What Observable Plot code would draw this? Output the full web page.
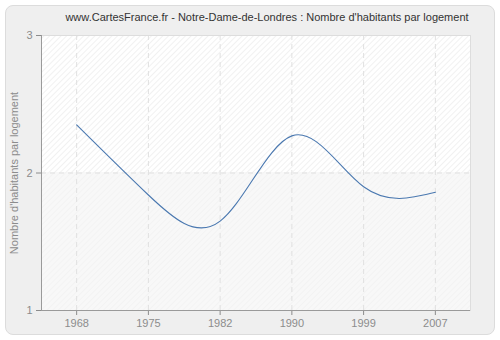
<!DOCTYPE html>
<html>
<head>
<meta charset="utf-8">
<script src="https://cdn.jsdelivr.net/npm/d3@7"></script>
<script src="https://cdn.jsdelivr.net/npm/@observablehq/plot@0.6"></script>
<style>
  html, body { margin: 0; padding: 0; background: #ffffff; }
  #wrap { position: relative; width: 500px; height: 340px; overflow: hidden; }
  #box { position: absolute; left: 5px; top: 5px; width: 488px; height: 328px;
         background: #efefef; border: 1px solid #dcdcdc; border-radius: 8px; }
  #title { position: absolute; left: 0; width: 534px; top: 11px; text-align: center;
           font-family: "Liberation Sans", Arial, sans-serif; font-size: 11px; color: #333; white-space: nowrap; }
  #chart { position: absolute; left: 0; top: 0; }
  #chart svg { background: transparent !important; }
</style>
</head>
<body>
<div id="wrap">
  <div id="box"></div>
  <div id="chart"></div>
  <div id="title">www.CartesFrance.fr - Notre-Dame-de-Londres : Nombre d'habitants par logement</div>
</div>
<script>
const years = ["1968", "1975", "1982", "1990", "1999", "2007"];
const values = [2.35, 1.84, 1.65, 2.27, 1.90, 1.86];
const yTicks = [1, 2, 3];
const yLabel = "Nombre d'habitants par logement";

const data = years.map((y, i) => ({year: y, value: values[i]}));

const W = 500, H = 340, ML = 41, MR = 30, MT = 35, MB = 30;

const plot = Plot.plot({
  width: W, height: H,
  marginLeft: ML, marginRight: MR, marginTop: MT, marginBottom: MB,
  style: {background: "transparent", fontFamily: "Liberation Sans, Arial, sans-serif", fontSize: "11px", color: "#8c8c8c"},
  x: {type: "point", domain: years, padding: 0.49, round: false, label: null, tickSize: 5, tickPadding: 4},
  y: {domain: [1, 3], ticks: yTicks, tickFormat: d3.format("d"), label: null, tickSize: 5, tickPadding: 4},
  marks: [
    Plot.rect([{a: 2, b: 3}], {y1: "a", y2: "b", fill: "url(#hatchTop)"}),
    Plot.rect([{a: 1, b: 2}], {y1: "a", y2: "b", fill: "url(#hatchBot)"}),
    Plot.ruleX(years, {stroke: "#e0e0e0", strokeDasharray: "5,4", strokeWidth: 1}),
    Plot.ruleY([2], {stroke: "#e0e0e0", strokeDasharray: "5,4", strokeWidth: 1}),
    Plot.frame({stroke: "#dddddd"}),
    Plot.ruleY([1], {stroke: "#9a9a9a", strokeWidth: 1}),
    Plot.line(data, {x: "year", y: "value", stroke: "#4a78b0", strokeWidth: 1.1, curve: "natural"}),
    Plot.text([yLabel], {frameAnchor: "left", textAnchor: "middle", dx: -27, rotate: -90, fill: "#8c8c8c", fontSize: 11})
  ]
});

const svg = d3.select(plot);
const defs = svg.insert("defs", ":first-child");
const pTop = defs.append("pattern").attr("id", "hatchTop").attr("patternUnits", "userSpaceOnUse")
  .attr("width", 4).attr("height", 4).attr("patternTransform", "rotate(45)");
pTop.append("rect").attr("width", 4).attr("height", 4).attr("fill", "#ffffff");
pTop.append("line").attr("x1", 0).attr("y1", 0).attr("x2", 0).attr("y2", 4).attr("stroke", "#e8e8e8").attr("stroke-width", 1.2);
const pBot = defs.append("pattern").attr("id", "hatchBot").attr("patternUnits", "userSpaceOnUse")
  .attr("width", 4).attr("height", 4).attr("patternTransform", "rotate(45)");
pBot.append("rect").attr("width", 4).attr("height", 4).attr("fill", "#f8f8f8");
pBot.append("line").attr("x1", 0).attr("y1", 0).attr("x2", 0).attr("y2", 4).attr("stroke", "#f0f0f0").attr("stroke-width", 1.2);

// left axis line at the frame edge
svg.append("line").attr("x1", ML + 0.5).attr("x2", ML + 0.5).attr("y1", MT).attr("y2", H - MB)
  .attr("stroke", "#9a9a9a");

document.getElementById("chart").appendChild(plot);
</script>
</body>
</html>
